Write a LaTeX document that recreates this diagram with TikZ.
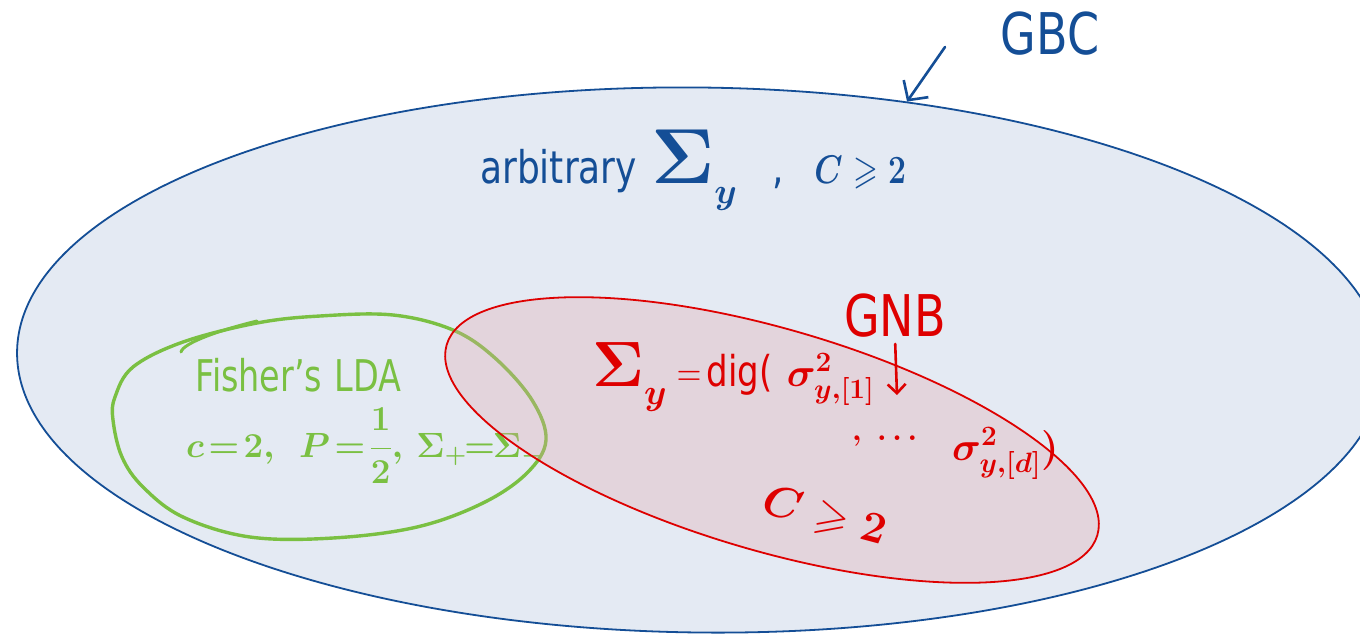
\RequirePackage{fix-cm}
\documentclass[tikz,border=0pt]{standalone}
\usepackage{fontspec}
\setmainfont{DejaVu Sans}
\usepackage{amssymb}
\usepackage{graphicx}
\usetikzlibrary{shapes.geometric,arrows.meta}
\definecolor{gbcblue}{RGB}{20,78,150}
\definecolor{gbcfill}{RGB}{228,234,243}
\definecolor{gnbred}{RGB}{222,0,0}
\definecolor{redfill}{RGB}{225,164,169}
\definecolor{ldagreen}{RGB}{122,192,66}
\newcommand{\fs}[1]{\fontsize{#1}{#1}\selectfont}
\newcommand{\tall}[1]{\scalebox{1}[1.25]{#1}}
\begin{document}
\begin{tikzpicture}[x=1pt,y=-1pt,
  bluetxt/.style={text=gbcblue,inner sep=0pt},
  redtxt/.style={text=gnbred,inner sep=0pt},
  greentxt/.style={text=ldagreen,inner sep=0pt},
  setell/.style={ellipse,inner sep=0pt,line width=1.8pt},
  handarrow/.style={line width=2.6pt,line cap=round,line join=round}]
\useasboundingbox (0,0) rectangle (1360,633);
\clip (0,0) rectangle (1360,633);
\fill[white] (0,0) rectangle (1360,633);
% GBC set
\node[setell,draw=gbcblue,fill=gbcfill,minimum width=1366pt,minimum height=545pt,rotate=-0.7] (gbc) at (700,360) {};
\node[bluetxt,anchor=base west] (arb) at (480,183)
  {\tall{\fs{36}arbitrary}\hspace{14pt}{\fs{78}\boldmath$\Sigma$}\raisebox{-20pt}{\fs{36}\boldmath$y$}\hspace{36pt}\tall{\fs{36},}\hspace{30pt}\tall{{\fs{32}\boldmath$C\geqslant 2$}}};
\node[bluetxt] (gbclbl) at (1050,34) {\tall{\fs{46}GBC}};
\coordinate (gbcfrom) at (945,47);
\draw[handarrow,gbcblue,-{Straight Barb[length=14pt,width=30pt]}] (gbcfrom) -- (gbc.52.5);
% Fisher's LDA set
\draw[ldagreen,line width=3.4pt,line cap=round] plot[smooth cycle,tension=0.6] coordinates {
  (113,420) (122,457) (143,487) (183,517) (250,537) (333,538) (417,527) (483,503)
  (527,473) (546,440) (532,400) (495,358) (453,330) (393,315) (320,316) (257,323)
  (183,342) (133,367) (115,397)};
\draw[ldagreen,line width=3pt,line cap=round] (181,352) .. controls (183,343) and (220,330) .. (257,321);
\node[greentxt,anchor=base west] (ldaname) at (195,391) {\scalebox{0.88}[1.15]{\fs{38}Fisher's\hspace{14pt}LDA}};
\node[greentxt,anchor=base west] (ldacond) at (186,457)
  {{\fs{35}\boldmath$c\!=\!2,\;\,P\!=\!{\displaystyle\frac{1}{2}},\,\Sigma_{+}\!\!=\!\!\Sigma_{-}$}};
% GNB set
\node[setell,draw=gnbred,fill=redfill,fill opacity=0.3,minimum width=678pt,minimum height=222pt,rotate=-16.3] (gnb) at (772,440) {};
\node[redtxt,anchor=base west] (gnbcov) at (592,386)
  {{\fs{64}\boldmath$\Sigma$}\raisebox{-18pt}{\fs{36}\boldmath$y$}\hspace{10pt}\tall{\fs{34}$=$\,dig(}\hspace{14pt}{\fs{40}\boldmath$\sigma^{2}_{y,[1]}$}};
\node[redtxt,anchor=base west] (gnbdots) at (852,440) {{\fs{30}\boldmath$,\;\ldots$}};
\node[redtxt,anchor=base west] (gnbcovb) at (952,460) {{\fs{40}\boldmath$\sigma^{2}_{y,[d]}\bigr)$}};
\node[redtxt,rotate=-15] (gnbc) at (825,517) {{\fs{44}\boldmath$C\geqslant 2$}};
\node[redtxt] (gnblbl) at (895,316) {\tall{\fs{46}GNB}};
\coordinate (gnbtip) at (897,395);
\draw[handarrow,gnbred,shorten <=6pt,-{Straight Barb[length=9pt,width=18pt]}] (gnblbl.south) -- (gnbtip);
\end{tikzpicture}
\end{document}
